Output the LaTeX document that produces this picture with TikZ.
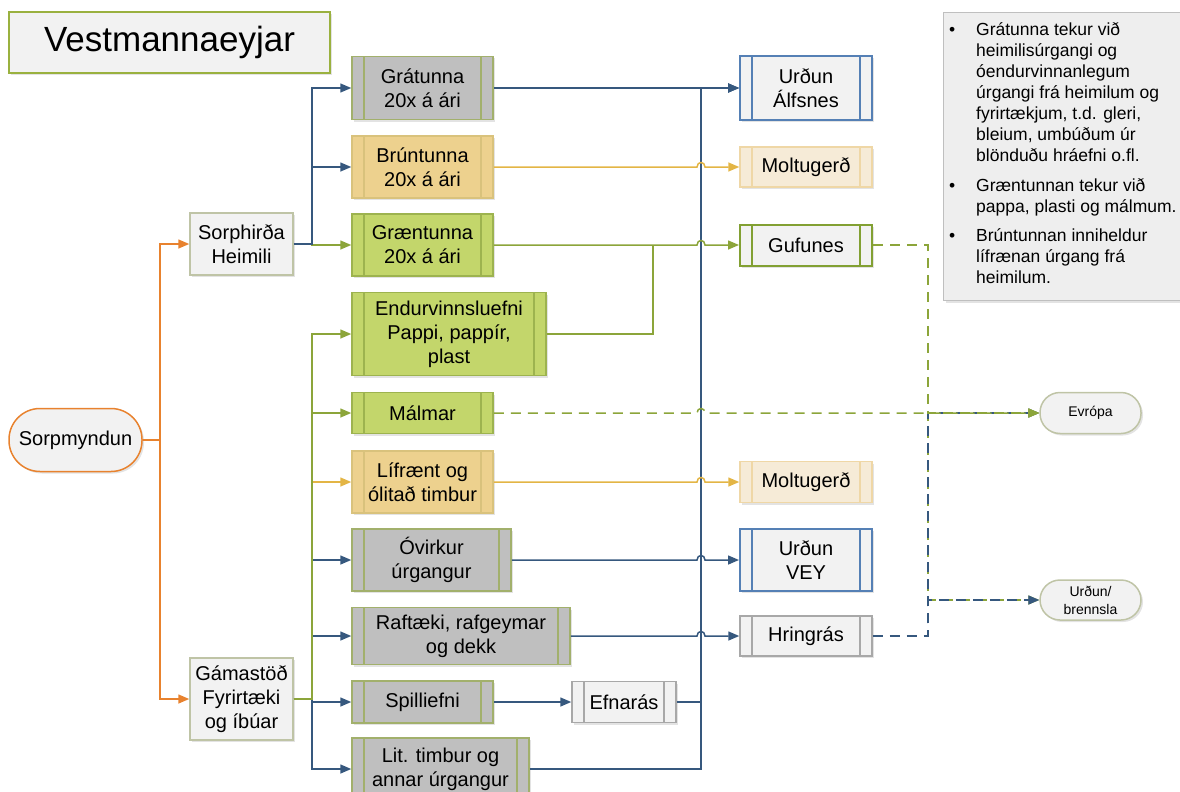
\documentclass[tikz,border=0pt]{standalone}
\usepackage{fontspec}
\setmainfont{Liberation Sans}
\usetikzlibrary{arrows.meta,shadows}

\definecolor{linblue}{HTML}{36587E}
\definecolor{linorange}{HTML}{E8822E}
\definecolor{lingreen}{HTML}{8CA53A}
\definecolor{lintan}{HTML}{E3B545}
\definecolor{fillgray}{HTML}{BFBFBF}
\definecolor{filltan}{HTML}{EDD18E}
\definecolor{fillgreen}{HTML}{C3D66B}
\definecolor{filllight}{HTML}{F2F2F2}
\definecolor{fillmolt}{HTML}{F6EBD7}
\definecolor{fillnote}{HTML}{EEEEEE}
\definecolor{bordolive}{HTML}{A2B06C}
\definecolor{bordtan}{HTML}{D9C27C}
\definecolor{bordgreen}{HTML}{9DB34F}
\definecolor{bordblue}{HTML}{5580B5}
\definecolor{bordmolt}{HTML}{EFD7A6}
\definecolor{bordgufu}{HTML}{82A033}
\definecolor{bordgray}{HTML}{A8A8A8}
\definecolor{bordpale}{HTML}{BFC4A6}
\definecolor{bordtitle}{HTML}{9AB13F}

\tikzset{
  shadowed/.style={drop shadow={shadow xshift=2pt,shadow yshift=-2pt,opacity=.22}},
  sz/.style 2 args={minimum width=#1pt,minimum height=#2pt},
  tunna/.style 2 args={draw=#2,fill=#1,line width=1.5pt,inner sep=0pt,align=center,shadowed,
    font=\fontsize{20}{24}\selectfont,
    path picture={\draw[#2,line width=1.5pt]
      ([xshift=12pt]path picture bounding box.north west) -- ([xshift=12pt]path picture bounding box.south west)
      ([xshift=-12pt]path picture bounding box.north east) -- ([xshift=-12pt]path picture bounding box.south east);}},
  stod/.style={draw=bordpale,fill=filllight,line width=1.5pt,inner sep=0pt,align=center,shadowed,
    font=\fontsize{20}{24}\selectfont},
  pill/.style={draw=#1,fill=filllight,line width=1.5pt,inner sep=0pt,align=center,shadowed,
    rounded corners=20pt},
  notebox/.style={draw=fillgray,fill=fillnote,line width=1.2pt,shadowed},
  lineblue/.style={draw=linblue,line width=1.5pt},
  linegreen/.style={draw=lingreen,line width=1.5pt},
  linetan/.style={draw=lintan,line width=1.5pt},
  lineorange/.style={draw=linorange,line width=1.5pt},
  dashgreen/.style={linegreen,dash pattern=on 10pt off 7pt},
  dashblue/.style={lineblue,dash pattern=on 10pt off 7pt},
  arr/.style={-{Triangle[length=11pt,width=9pt]}}
}

\begin{document}
\begin{tikzpicture}[x=1pt,y=-1pt]
  \useasboundingbox (0,0) rectangle (1180,792);

  % title and note
  \node[draw=bordtitle,fill=filllight,line width=1.8pt,sz={321}{61},shadowed,
    font=\fontsize{35}{42}\selectfont] (title) at (169.5,42.5) {Vestmannaeyjar};
  \node[notebox,sz={252}{288},anchor=north west] (note) at (943,12) {};
  \node[anchor=north west,inner sep=0pt,font=\fontsize{17.5}{21}\selectfont] (notetxt) at (949,21) {%
    \begin{tabular}{@{}p{27pt}@{}l@{}}
      \textbullet & Grátunna tekur við\\
       & heimilisúrgangi og\\
       & óendurvinnanlegum\\
       & úrgangi frá heimilum og\\
       & fyrirtækjum, t.d. gleri,\\
       & bleium, umbúðum úr\\
       & blönduðu hráefni o.fl.\\[9pt]
      \textbullet & Græntunnan tekur við\\
       & pappa, plasti og málmum.\\[8pt]
      \textbullet & Brúntunnan inniheldur\\
       & lífrænan úrgang frá\\
       & heimilum.
    \end{tabular}};

  % sources
  \node[pill=linorange,sz={133}{63},rounded corners=31pt,font=\fontsize{20}{24}\selectfont] (sorp) at (75.5,440) {Sorpmyndun};
  \node[stod,sz={103}{62}] (sorph) at (241.5,244) {Sorphirða\\Heimili};
  \node[stod,sz={103}{82}] (gama) at (241.5,699) {Gámastöð\\Fyrirtæki\\og íbúar};

  % bins and fractions
  \node[tunna={fillgray}{bordolive},sz={141}{63}] (gra) at (422.5,88) {Grátunna\\20x á ári};
  \node[tunna={filltan}{bordtan},sz={141}{62}] (brun) at (422.5,167) {Brúntunna\\20x á ári};
  \node[tunna={fillgreen}{bordgreen},sz={141}{62}] (graen) at (422.5,245) {Græntunna\\20x á ári};
  \node[tunna={fillgreen}{bordgreen},sz={194}{83}] (endur) at (449,334) {Endurvinnsluefni\\Pappi, pappír,\\plast};
  \node[tunna={fillgreen}{bordgreen},sz={141}{41}] (malm) at (422.5,413) {Málmar};
  \node[tunna={filltan}{bordtan},sz={141}{62}] (lif) at (422.5,482) {Lífrænt og\\ólitað timbur};
  \node[tunna={fillgray}{bordolive},sz={159}{62}] (ovirk) at (431.5,560) {Óvirkur\\úrgangur};
  \node[tunna={fillgray}{bordolive},sz={218}{57}] (raf) at (461,636) {Raftæki, rafgeymar\\og dekk};
  \node[tunna={fillgray}{bordolive},sz={141}{42}] (spill) at (422.5,702) {Spilliefni};
  \node[tunna={fillgray}{bordolive},sz={177}{62}] (litt) at (440.5,769) {Lit. timbur og\\annar úrgangur};

  % receivers
  \node[tunna={filllight}{bordblue},sz={132}{63},line width=2pt] (urdalf) at (806,88) {Urðun\\Álfsnes};
  \node[tunna={fillmolt}{bordmolt},sz={132}{40}] (molt1) at (806,167) {Moltugerð};
  \node[tunna={filllight}{bordgufu},sz={132}{41},line width=2pt] (gufu) at (806,245) {Gufunes};
  \node[tunna={fillmolt}{bordmolt},sz={132}{41}] (molt2) at (806,482) {Moltugerð};
  \node[tunna={filllight}{bordblue},sz={132}{62},line width=2pt] (urdvey) at (806,560) {Urðun\\VEY};
  \node[tunna={filllight}{bordgray},sz={132}{40}] (hring) at (806,636) {Hringrás};
  \node[tunna={filllight}{bordgray},sz={104}{41}] (efna) at (624,702) {Efnarás};
  \node[pill=bordpale,sz={101}{41},font=\fontsize{14}{17}\selectfont] (evropa) at (1090.5,413) {Evrópa};
  \node[pill=bordpale,sz={101}{40},font=\fontsize{14}{18}\selectfont] (urdbr) at (1090.5,600) {Urðun/\\brennsla};

  % split points
  \coordinate (osplit) at (160,0);
  \coordinate (lsplit) at (312,0);
  \coordinate (bus) at (701,0);
  \coordinate (dbus) at (928,0);
  \coordinate (gjoin) at (653,245);

  % left side
  \draw[lineorange,arr] (sorp.east) -| (osplit |- sorph.west) -- (sorph.west);
  \draw[lineorange,arr] (sorp.east) -| (osplit |- gama.west) -- (gama.west);
  \draw[linegreen,arr] (sorph.east) -| (lsplit |- graen.west) -- (graen.west);
  \foreach \to in {gra,brun}
    \draw[lineblue,arr] (sorph.east) -| (lsplit |- \to.west) -- (\to.west);
  \foreach \to in {ovirk,raf,spill,litt}
    \draw[lineblue,arr] (gama.east) -| (lsplit |- \to.west) -- (\to.west);
  \draw[linetan,arr] (gama.east) -| (lsplit |- lif.west) -- (lif.west);
  \foreach \to in {endur,malm}
    \draw[linegreen,arr] (gama.east) -| (lsplit |- \to.west) -- (\to.west);

  % right side
  \draw[lineblue,arr] (gra.east) -- (urdalf.west);
  \draw[lineblue,arr] (litt.east) -| (bus |- urdalf.west) -- (urdalf.west);
  \draw[lineblue,arr] (efna.east) -| (bus |- urdalf.west) -- (urdalf.west);
  \draw[lineblue,arr] (spill.east) -- (efna.west);
  \draw[linegreen] (endur.east) -| (gjoin);
  \foreach \from/\to/\lin in {brun/molt1/linetan,graen/gufu/linegreen,lif/molt2/linetan,ovirk/urdvey/lineblue,raf/hring/lineblue}
    \draw[\lin,arr] (\from.east) -- ([xshift=-4pt]bus |- \from.east)
      .. controls +(0,-6) and +(0,-6) .. ([xshift=4pt]bus |- \from.east) -- (\to.west);

  % dashed
  \draw[dashgreen,arr] (gufu.east) -| (dbus |- urdbr.west) -- (urdbr.west);
  \draw[dashblue,arr] (hring.east) -| (dbus |- evropa.west) -- (evropa.west);
  \draw[dashblue,arr] (hring.east) -| (dbus |- urdbr.west) -- (urdbr.west);
  \draw[dashgreen,arr] (gufu.east) -| (dbus |- evropa.west) -- (evropa.west);
  \draw[dashgreen,arr] (malm.east) -- ([xshift=-4pt]bus |- malm.east)
    .. controls +(0,-6) and +(0,-6) .. ([xshift=4pt]bus |- malm.east) -- (evropa.west);
\end{tikzpicture}
\end{document}
